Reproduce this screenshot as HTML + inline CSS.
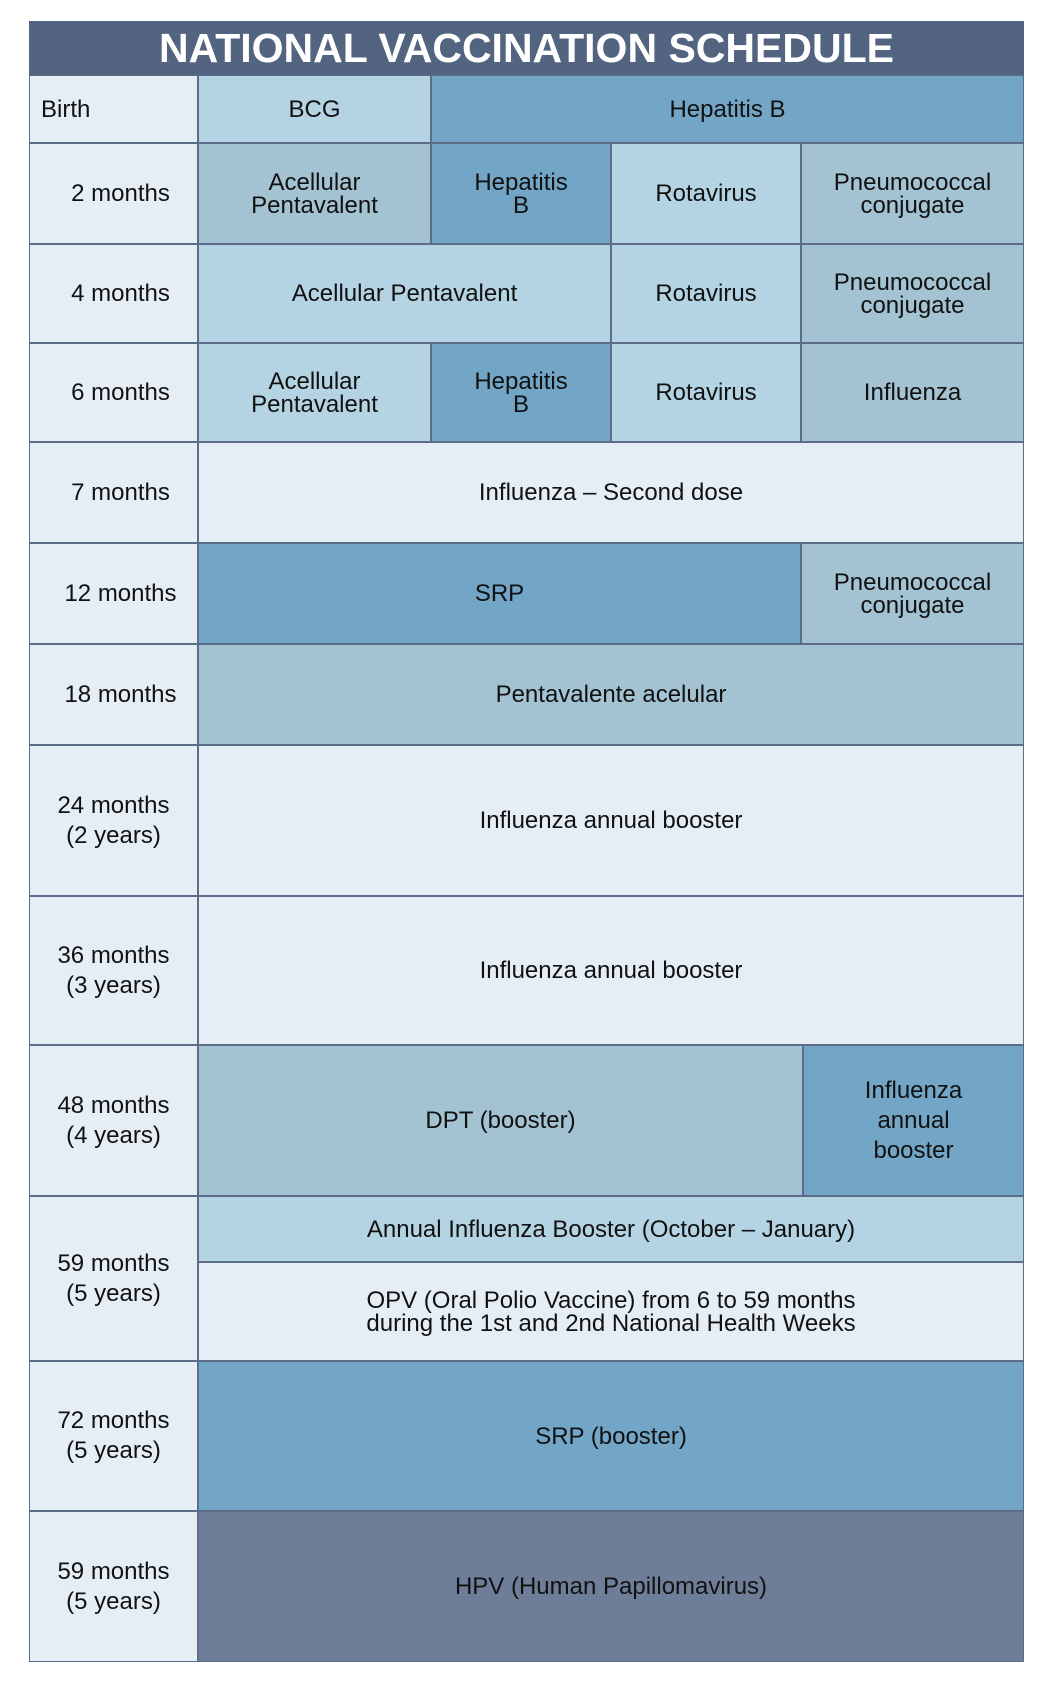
<!DOCTYPE html>
<html><head><meta charset="utf-8"><style>
html,body{margin:0;padding:0;background:#fff;width:1054px;height:1688px;overflow:hidden}
body{position:relative;font-family:"Liberation Sans",sans-serif;color:#111}
.c{position:absolute;box-sizing:border-box;border:1px solid #5d6c88;display:flex;align-items:center;justify-content:center;text-align:center;font-size:24px;line-height:23px}
.t{position:absolute;left:29px;top:21px;width:995px;height:54px;background:#536481;color:#fff;font-weight:bold;font-size:41px;display:flex;align-items:center;justify-content:center}
.L{background:#e5edf5}
.s{padding-left:14px}
.a{background:#b4d4e4}.b{background:#a3c3d3}.d{background:#72a5c6}.e{background:#e5edf5}.h{background:#6e7e98}
</style></head><body>
<div class="t">NATIONAL VACCINATION SCHEDULE</div>

<div class="c L" style="left:29px;top:75px;width:169px;height:68px;justify-content:flex-start;padding-left:11px">Birth</div>
<div class="c a" style="left:198px;top:75px;width:233px;height:68px">BCG</div>
<div class="c d" style="left:431px;top:75px;width:593px;height:68px">Hepatitis B</div>

<div class="c L s" style="left:29px;top:143px;width:169px;height:101px">2 months</div>
<div class="c b" style="left:198px;top:143px;width:233px;height:101px">Acellular<br>Pentavalent</div>
<div class="c d" style="left:431px;top:143px;width:180px;height:101px">Hepatitis<br>B</div>
<div class="c a" style="left:611px;top:143px;width:190px;height:101px">Rotavirus</div>
<div class="c b" style="left:801px;top:143px;width:223px;height:101px">Pneumococcal<br>conjugate</div>

<div class="c L s" style="left:29px;top:244px;width:169px;height:99px">4 months</div>
<div class="c a" style="left:198px;top:244px;width:413px;height:99px">Acellular Pentavalent</div>
<div class="c a" style="left:611px;top:244px;width:190px;height:99px">Rotavirus</div>
<div class="c b" style="left:801px;top:244px;width:223px;height:99px">Pneumococcal<br>conjugate</div>

<div class="c L s" style="left:29px;top:343px;width:169px;height:99px">6 months</div>
<div class="c a" style="left:198px;top:343px;width:233px;height:99px">Acellular<br>Pentavalent</div>
<div class="c d" style="left:431px;top:343px;width:180px;height:99px">Hepatitis<br>B</div>
<div class="c a" style="left:611px;top:343px;width:190px;height:99px">Rotavirus</div>
<div class="c b" style="left:801px;top:343px;width:223px;height:99px">Influenza</div>

<div class="c L s" style="left:29px;top:442px;width:169px;height:101px">7 months</div>
<div class="c e" style="left:198px;top:442px;width:826px;height:101px">Influenza – Second dose</div>

<div class="c L s" style="left:29px;top:543px;width:169px;height:101px">12 months</div>
<div class="c d" style="left:198px;top:543px;width:603px;height:101px">SRP</div>
<div class="c b" style="left:801px;top:543px;width:223px;height:101px">Pneumococcal<br>conjugate</div>

<div class="c L s" style="left:29px;top:644px;width:169px;height:101px">18 months</div>
<div class="c b" style="left:198px;top:644px;width:826px;height:101px">Pentavalente acelular</div>

<div class="c L" style="left:29px;top:745px;width:169px;height:151px;line-height:30px">24 months<br>(2 years)</div>
<div class="c e" style="left:198px;top:745px;width:826px;height:151px">Influenza annual booster</div>

<div class="c L" style="left:29px;top:896px;width:169px;height:149px;line-height:30px">36 months<br>(3 years)</div>
<div class="c e" style="left:198px;top:896px;width:826px;height:149px">Influenza annual booster</div>

<div class="c L" style="left:29px;top:1045px;width:169px;height:151px;line-height:30px">48 months<br>(4 years)</div>
<div class="c b" style="left:198px;top:1045px;width:605px;height:151px">DPT (booster)</div>
<div class="c d" style="left:803px;top:1045px;width:221px;height:151px;line-height:30px">Influenza<br>annual<br>booster</div>

<div class="c L" style="left:29px;top:1196px;width:169px;height:165px;line-height:30px">59 months<br>(5 years)</div>
<div class="c a" style="left:198px;top:1196px;width:826px;height:66px">Annual Influenza Booster (October – January)</div>
<div class="c e" style="left:198px;top:1262px;width:826px;height:99px">OPV (Oral Polio Vaccine) from 6 to 59 months<br>during the 1st and 2nd National Health Weeks</div>

<div class="c L" style="left:29px;top:1361px;width:169px;height:150px;line-height:30px">72 months<br>(5 years)</div>
<div class="c d" style="left:198px;top:1361px;width:826px;height:150px">SRP (booster)</div>

<div class="c L" style="left:29px;top:1511px;width:169px;height:151px;line-height:30px">59 months<br>(5 years)</div>
<div class="c h" style="left:198px;top:1511px;width:826px;height:151px">HPV (Human Papillomavirus)</div>
</body></html>
